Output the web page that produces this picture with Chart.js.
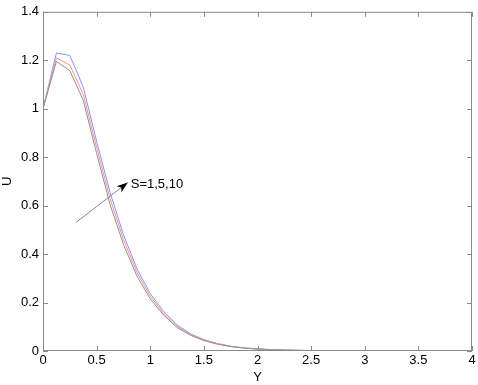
<!DOCTYPE html>
<html lang="en">
<head>
<meta charset="UTF-8">
<title>U vs Y</title>
<script src="https://cdn.jsdelivr.net/npm/chart.js@4.4.1/dist/chart.umd.min.js"></script>
<style>
  body { margin: 0; padding: 0; background: #fff; }
  #wrap { width: 478px; height: 385px; }
</style>
</head>
<body>
<div id="wrap"><canvas id="myChart" width="478" height="385"></canvas></div>
<script>
// Y positions (step 0.125)
const yPos = [0, 0.125, 0.25, 0.375, 0.5, 0.625, 0.75, 0.875, 1, 1.125, 1.25, 1.375, 1.5, 1.625, 1.75, 1.875,
              2, 2.125, 2.25, 2.375, 2.5, 2.625, 2.75, 2.875, 3, 3.125, 3.25, 3.375, 3.5, 3.625, 3.75, 3.875, 4];

// U for S = 10 (blue), S = 5 (red), S = 1 (grey)
const uS10 = [1, 1.23, 1.22, 1.09, 0.865, 0.655, 0.48, 0.34, 0.237, 0.163, 0.108, 0.071, 0.047, 0.031, 0.02, 0.013,
              0.009, 0.006, 0.004, 0.003, 0.002, 0.0015, 0.001, 0.001, 0.0008, 0.0006, 0.0005, 0.0004, 0.0003, 0.0002, 0.0001, 0.0001, 0];
const uS5  = [1, 1.21, 1.18, 1.06, 0.84, 0.63, 0.46, 0.325, 0.226, 0.155, 0.102, 0.068, 0.045, 0.03, 0.019, 0.012,
              0.008, 0.0055, 0.0037, 0.0027, 0.0018, 0.0013, 0.001, 0.0008, 0.0007, 0.0005, 0.0004, 0.0003, 0.0002, 0.0002, 0.0001, 0.0001, 0];
const uS1  = [1, 1.195, 1.157, 1.035, 0.815, 0.605, 0.44, 0.31, 0.215, 0.148, 0.097, 0.065, 0.043, 0.028, 0.018, 0.012,
              0.008, 0.005, 0.0035, 0.0025, 0.0017, 0.0012, 0.0009, 0.0007, 0.0006, 0.0005, 0.0004, 0.0003, 0.0002, 0.0001, 0.0001, 0.0001, 0];

const seriesNames = ['S=10', 'S=5', 'S=1'];
const annotText = 'S=1,5,10';
// arrow from / to, in data units
const arrowFrom = [0.308, 0.531];
const arrowTo = [0.79, 0.695];

const FONT = 'Arial, "Liberation Sans", sans-serif';

function toXY(arr) {
  return yPos.map((x, i) => ({ x: x, y: arr[i] }));
}

function fmt(v) {
  return String(Math.round(v * 10) / 10);
}

// MATLAB-like box with inward ticks, plus the arrow note
const boxPlugin = {
  id: 'boxPlugin',
  afterDraw(chart) {
    const ctx = chart.ctx;
    const a = chart.chartArea;
    const xs = chart.scales.x, ys = chart.scales.y;
    ctx.save();
    ctx.strokeStyle = '#8a8a8a';
    ctx.lineWidth = 1;
    ctx.strokeRect(a.left + 0.5, a.top + 0.5, a.right - a.left - 1, a.bottom - a.top - 1);
    ctx.beginPath();
    xs.ticks.forEach(t => {
      const px = Math.round(xs.getPixelForValue(t.value)) + 0.5;
      ctx.moveTo(px, a.bottom); ctx.lineTo(px, a.bottom - 5);
      ctx.moveTo(px, a.top); ctx.lineTo(px, a.top + 5);
    });
    ys.ticks.forEach(t => {
      const py = Math.round(ys.getPixelForValue(t.value)) + 0.5;
      ctx.moveTo(a.left, py); ctx.lineTo(a.left + 5, py);
      ctx.moveTo(a.right, py); ctx.lineTo(a.right - 5, py);
    });
    ctx.stroke();

    // arrow
    const x0 = xs.getPixelForValue(arrowFrom[0]), y0 = ys.getPixelForValue(arrowFrom[1]);
    const x1 = xs.getPixelForValue(arrowTo[0]), y1 = ys.getPixelForValue(arrowTo[1]);
    const ang = Math.atan2(y1 - y0, x1 - x0);
    ctx.strokeStyle = '#888';
    ctx.beginPath();
    ctx.moveTo(x0, y0); ctx.lineTo(x1, y1);
    ctx.stroke();
    ctx.fillStyle = '#000';
    ctx.beginPath();
    ctx.moveTo(x1, y1);
    ctx.lineTo(x1 - 11 * Math.cos(ang) + 4 * Math.sin(ang), y1 - 11 * Math.sin(ang) - 4 * Math.cos(ang));
    ctx.lineTo(x1 - 8 * Math.cos(ang), y1 - 8 * Math.sin(ang));
    ctx.lineTo(x1 - 11 * Math.cos(ang) - 4 * Math.sin(ang), y1 - 11 * Math.sin(ang) + 4 * Math.cos(ang));
    ctx.closePath();
    ctx.fill();
    ctx.font = '13px ' + FONT;
    ctx.textBaseline = 'middle';
    ctx.textAlign = 'left';
    ctx.fillText(annotText, x1 + 3, y1 + 2);
    ctx.restore();
  }
};

const ctx = document.getElementById('myChart').getContext('2d');
const myChart = new Chart(ctx, {
  type: 'line',
  data: {
    datasets: [
      { label: seriesNames[2], data: toXY(uS1), borderColor: '#8a968a', borderWidth: 1, pointRadius: 0, tension: 0, fill: false },
      { label: seriesNames[1], data: toXY(uS5), borderColor: '#ff9090', borderWidth: 1, pointRadius: 0, tension: 0, fill: false },
      { label: seriesNames[0], data: toXY(uS10), borderColor: '#9090ff', borderWidth: 1, pointRadius: 0, tension: 0, fill: false }
    ]
  },
  options: {
    responsive: false,
    animation: false,
    layout: { padding: { top: 11, right: 6, left: 0, bottom: 0 } },
    plugins: { legend: { display: false }, tooltip: { enabled: false } },
    scales: {
      x: {
        type: 'linear', min: 0, max: 4,
        ticks: { stepSize: 0.5, color: '#000', font: { family: FONT, size: 13 }, padding: 2, maxRotation: 0, callback: v => fmt(v) },
        grid: { display: false, drawTicks: false },
        border: { display: false },
        title: { display: true, text: 'Y', color: '#000', font: { family: FONT, size: 13 }, padding: { top: 0, bottom: 0 } },
        afterFit(s) { s.height = 34; }
      },
      y: {
        min: 0, max: 1.4,
        ticks: { stepSize: 0.2, color: '#000', font: { family: FONT, size: 13 }, padding: 4, callback: v => fmt(v) },
        grid: { display: false, drawTicks: false },
        border: { display: false },
        title: { display: true, text: 'U', color: '#000', font: { family: FONT, size: 13 }, padding: { top: 0, bottom: 0 } },
        afterFit(s) { s.width = 43; }
      }
    }
  },
  plugins: [boxPlugin]
});
</script>
</body>
</html>
